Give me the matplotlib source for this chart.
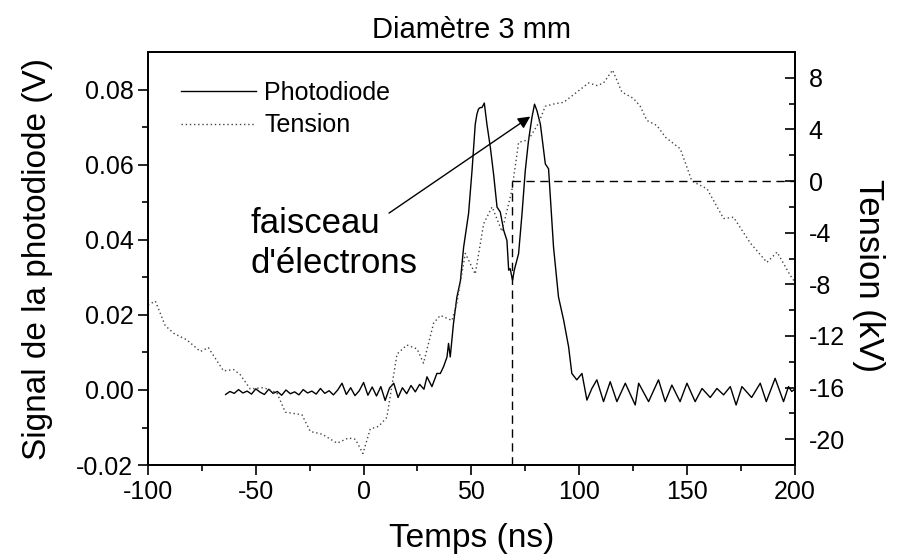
import matplotlib
matplotlib.use("Agg")
import matplotlib.pyplot as plt

plt.rcParams['font.family'] = ['Liberation Sans', 'DejaVu Sans']
plt.rcParams['axes.unicode_minus'] = False

# photodiode signal (ns, V)
t_photo = [-64, -62, -60, -58, -56, -54, -52, -50, -48, -46, -44, -42, -40, -38,
           -36, -34, -32, -30, -28, -26, -24, -22, -20, -18, -16, -14, -12, -10,
           -8, -6, -4, -2, 0, 2, 4, 6, 8, 10, 12, 14, 16, 18, 20, 22, 24, 26, 28,
           29.4, 31.7, 34, 35.6, 37.1, 38.7, 39.4, 40.2, 41.7, 43.3, 44.9, 46.4,
           48.7, 50.3, 51.8, 52.6, 53.3, 54.1, 54.9, 56, 57.2, 58.8, 60.3, 61.9,
           63.4, 65, 66.5, 67.3, 68, 69.1, 69.9, 71.9, 73.5, 75, 76.5, 78.1, 79.3,
           80.4, 82, 84.3, 85.8, 88.1, 90.4, 92.8, 95.1, 96.6, 98.9, 101.3, 103.6,
           105.9, 108.2, 111.3, 114.4, 117.5, 121.4, 126, 127.6, 132.2, 136.8,
           139.9, 143, 146.8, 150, 153.8, 157, 160.8, 163.9, 167, 170.1, 172.8,
           175.5, 180, 184, 186.8, 190.9, 194.8, 197.1, 198.6, 200]
v_photo = [-0.0012, -0.0004, -0.0009, 0.0001, -0.0008, -0.0003, -0.0011, 0.0003,
           -0.0006, -0.0012, 0.0002, -0.0009, -0.0004, -0.0014, 0.0, -0.0010,
           -0.0005, -0.0013, 0.0001, -0.0008, -0.0003, -0.0011, 0.0004, -0.0009,
           -0.0002, -0.0013, 0.0, 0.0018, -0.0012, 0.0006, -0.0015, -0.0002,
           0.0020, -0.0014, 0.0008, -0.0016, 0.0009, -0.0028, 0.0005, 0.0018,
           -0.0020, 0.0006, -0.0010, 0.0012, -0.0005, 0.0015, 0.0002,
           0.0035, 0.0009, 0.0044, 0.0044, 0.0062, 0.0088, 0.0124, 0.0088,
           0.0177, 0.0248, 0.0290, 0.0380, 0.0470, 0.0584, 0.0708, 0.0735,
           0.0748, 0.0752, 0.0752, 0.0764, 0.0708, 0.0646, 0.0575, 0.0487,
           0.0474, 0.0425, 0.0398, 0.0319, 0.0323, 0.0292, 0.0319, 0.0363,
           0.0470, 0.0584, 0.0664, 0.0726, 0.0761, 0.0744, 0.0708, 0.0602,
           0.0589, 0.0381, 0.0248, 0.0186, 0.0115, 0.0044, 0.0027, 0.0044,
           -0.0027, 0.0004, 0.0027, -0.0031, 0.0022, -0.0031, 0.0018, -0.0040,
           0.0018, -0.0031, 0.0027, -0.0031, 0.0013, -0.0031, 0.0018, -0.0031,
           0.0004, -0.0020, 0.0004, -0.0013, 0.0009, -0.0040, 0.0009, -0.0020,
           0.0018, -0.0031, 0.0031, -0.0031, 0.0009, -0.0004, 0.0002]

# applied voltage (ns, kV)
t_volt = [-100, -96.6, -92, -88, -82, -75.7, -72, -65, -60.3, -57.2, -52.6,
          -46.4, -40.2, -36.3, -28.6, -24.7, -19.3, -12.3, -7, -3.8, -0.3, 3.1,
          7, 10.8, 15.5, 20.1, 24.8, 27.8, 32.5, 35.6, 41, 43.3, 47.2, 51.8,
          55.7, 59.6, 64.2, 68.8, 71.9, 76.5, 81.2, 84.3, 88.9, 92.8, 98.2,
          104.4, 108.3, 111.3, 115.5, 119.8, 125.2, 128.3, 131.4, 136.1, 140,
          146.9, 152.3, 159.3, 167, 171.6, 179.4, 187.1, 191.8, 197.9, 200]
kv_volt = [-9.6, -9.3, -11.2, -11.8, -12.3, -13.2, -12.9, -14.7, -14.6, -15.0,
           -16.1, -16.0, -16.4, -17.9, -18.1, -19.4, -19.6, -20.3, -19.9, -20.0,
           -21.1, -19.2, -19.0, -18.3, -13.4, -12.7, -13.0, -14.1, -11.0, -10.4,
           -10.8, -9.4, -5.6, -7.2, -3.3, -2.0, -3.9, -0.7, 3.0, 3.2, 4.5, 5.8,
           6.0, 6.1, 6.8, 7.6, 7.4, 7.6, 8.6, 6.9, 6.4, 5.8, 4.7, 4.3, 3.4, 2.5,
           0.0, -0.6, -2.9, -2.8, -4.8, -6.3, -5.5, -7.3, -7.8]

t_zero = 69  # zero crossing marker (ns)

fig = plt.figure(figsize=(8.97, 5.59), dpi=100)
ax = fig.add_axes([0.165, 0.168, 0.721, 0.739])
ax2 = ax.twinx()

l1, = ax.plot(t_photo, v_photo, color="black", lw=1.0)
l2, = ax2.plot(t_volt, kv_volt, color="#444444", lw=1.0, linestyle=(0, (1, 2)))

# dashed guides
ax2.plot([t_zero, t_zero], [-22, 0], color="black", lw=1.0, linestyle=(0, (6, 4)))
ax2.plot([t_zero, 200], [0, 0], color="black", lw=1.0, linestyle=(0, (6, 4)))

ax.set_xlim(-100, 200)
ax.set_ylim(-0.02, 0.09)
ax2.set_ylim(-22, 10)

ax.set_xticks([-100, -50, 0, 50, 100, 150, 200])
ax.set_xticks(range(-75, 200, 50), minor=True)
ax.set_yticks([-0.02, 0.0, 0.02, 0.04, 0.06, 0.08])
ax.set_yticklabels(["-0.02", "0.00", "0.02", "0.04", "0.06", "0.08"])
ax.set_yticks([-0.01, 0.01, 0.03, 0.05, 0.07], minor=True)
ax.set_xticklabels(["-100", "-50", "0", "50", "100", "150", "200"])
ax2.set_yticks([-20, -16, -12, -8, -4, 0, 4, 8])
ax2.set_yticks([-22, -18, -14, -10, -6, -2, 2, 6], minor=True)

ax.tick_params(axis="both", which="major", direction="out", length=7, width=1.2,
               labelsize=18, top=False)
ax.tick_params(axis="both", which="minor", direction="out", length=4, width=1.2,
               top=False)
ax2.tick_params(axis="y", which="major", direction="in", length=7, width=1.2,
                labelsize=18, pad=10)
ax2.tick_params(axis="y", which="minor", direction="in", length=4, width=1.2)
for a in (ax, ax2):
    for s in a.spines.values():
        s.set_linewidth(1.3)

ax.set_xlabel("Temps (ns)", fontsize=24, labelpad=14)
ax.set_ylabel("Signal de la photodiode (V)", fontsize=24, labelpad=17)
ax2.set_ylabel("Tension (kV)", fontsize=25, rotation=270, labelpad=32)
ax2.yaxis.set_label_coords(1.14, 0.46)
ax.set_title("Diamètre 3 mm", fontsize=21, pad=10)

ax.legend([l1, l2], ["Photodiode", "Tension"], loc="upper left",
          bbox_to_anchor=(0.035, 0.955), frameon=False, fontsize=18,
          handlelength=3.0, handletextpad=0.35, borderaxespad=0, labelspacing=0.35)

ax.text(-52.5, 0.039, "faisceau\nd'électrons", fontsize=25, ha="left",
        va="center", linespacing=1.3)
ax.annotate("", xy=(77.3, 0.0728), xytext=(11.8, 0.0471),
            arrowprops=dict(arrowstyle="-|>", color="black", lw=1.0,
                            mutation_scale=18, shrinkA=0, shrinkB=0))

fig.savefig("out.png", dpi=100)
